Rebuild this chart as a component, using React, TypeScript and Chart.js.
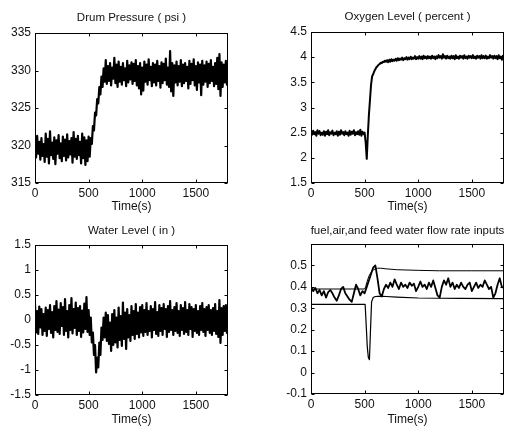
import React, { useEffect, useRef } from "react";
import { Chart, registerables } from "chart.js";

Chart.register(...registerables);

// ---------------- data ----------------
const SAMPLE_STEP_S = 10; // noisy signals sampled every 10 s
const FLOW_STEP_S = 20; // measured flow input sampled every 20 s
const TIME_TICKS = [0, 500, 1000, 1500];

const DRUM_PRESSURE = [
  320.8, 318.4, 321.3, 318.9, 320.5, 318.1, 321.0, 318.6, 320.2, 317.8,
  321.6, 318.5, 320.9, 317.6, 321.9, 318.7, 320.4, 318.2, 321.1, 317.5,
  320.7, 318.9, 321.4, 318.3, 320.3, 317.9, 321.2, 318.6, 320.8, 318.0,
  321.5, 318.4, 320.6, 318.8, 321.0, 317.7, 321.8, 318.5, 320.9, 318.2,
  321.3, 318.7, 320.5, 317.6, 321.6, 318.3, 321.1, 317.4, 320.7, 317.9,
  321.2,
  318.5, 321.0, 320.2, 322.6, 322.0, 324.4, 324.0, 326.2, 325.6, 327.8,
  326.8, 329.2, 327.8, 330.3, 328.5,
  331.4, 328.2, 330.6, 328.6, 331.0, 328.0, 330.4, 328.9, 331.7, 328.3,
  330.8, 327.8, 331.2, 328.5, 330.5, 328.1, 331.0, 328.7, 330.3, 327.9,
  331.3, 328.4, 330.7, 328.8, 331.1, 328.2, 330.9, 328.6, 331.4, 328.0,
  330.6, 327.6, 331.0, 326.8, 330.4, 327.3, 331.2, 328.5, 330.8, 328.1,
  331.5, 328.7, 330.5, 327.9, 331.0, 328.4, 330.8, 328.0, 331.3, 328.6,
  330.6, 327.7, 331.1, 328.3, 330.9, 328.7, 331.6, 328.1, 330.4, 327.8,
  332.6, 327.2, 331.0, 326.6, 330.7, 328.4, 331.2, 328.0, 330.6, 328.5,
  331.4, 327.9, 330.8, 328.3, 331.0, 328.6, 330.5, 327.6, 331.3, 328.2,
  330.9, 328.7, 331.5, 328.0, 330.6, 327.4, 331.1, 328.4, 330.8, 326.7,
  331.3, 328.1, 330.7, 328.5, 331.2, 327.8, 330.9, 328.3, 331.4, 328.6,
  330.5, 327.9, 331.0, 328.2, 331.7, 327.5, 332.2, 326.6, 331.1, 327.8,
  330.8, 328.4, 331.3, 328.1, 330.9,
];

const OXYGEN_LEVEL = [
  2.52, 2.46, 2.54, 2.47, 2.51, 2.44, 2.55, 2.48, 2.53, 2.45,
  2.50, 2.46, 2.53, 2.44, 2.52, 2.47, 2.55, 2.45, 2.51, 2.48,
  2.54, 2.45, 2.50, 2.47, 2.53, 2.44, 2.52, 2.46, 2.55, 2.48,
  2.51, 2.45, 2.53, 2.47, 2.50, 2.44, 2.54, 2.46, 2.52, 2.48,
  2.55, 2.45, 2.51, 2.47, 2.53, 2.46, 2.56, 2.44, 2.52, 2.47,
  2.50,
  2.30, 1.98, 2.45, 2.85, 3.15, 3.45, 3.62, 3.66, 3.72, 3.76,
  3.80, 3.82, 3.85, 3.86, 3.89, 3.88, 3.91, 3.90, 3.93, 3.91,
  3.94, 3.90, 3.95, 3.91, 3.96, 3.92, 3.95, 3.93, 3.97, 3.93,
  3.98, 3.94, 3.97, 3.95, 3.99, 3.94, 3.98, 3.96, 4.00, 3.95,
  3.99, 3.96, 4.01, 3.96, 3.99, 3.97, 4.02, 3.96, 4.00, 3.97,
  4.02, 3.97, 4.01, 3.96, 4.03, 3.98, 4.01, 3.97, 4.02, 3.98,
  4.01, 3.97, 4.03, 3.98, 4.01, 3.96, 4.02, 3.98, 4.04, 3.99,
  4.02, 3.97, 4.06, 3.99, 4.02, 3.97, 4.03, 3.98, 4.01, 3.97,
  4.03, 3.98, 4.02, 3.96, 4.04, 3.98, 4.01, 3.97, 4.03, 3.99,
  4.02, 3.97, 4.04, 3.98, 4.01, 3.97, 4.03, 3.99, 4.02, 3.98,
  4.04, 3.98, 4.01, 3.97, 4.03, 3.99, 4.02, 3.97, 4.04, 3.98,
  4.02, 3.98, 4.03, 3.97, 4.01, 3.98, 4.04, 3.99, 4.02, 3.97,
  4.03, 3.98, 4.02, 3.96, 4.04, 3.98, 4.01, 3.95, 4.03, 3.98,
];

const WATER_LEVEL = [
  0.32, -0.25, 0.18, -0.28, 0.27, -0.15, 0.22, -0.30, 0.12, -0.22,
  0.25, -0.32, 0.20, -0.18, 0.30, -0.26, 0.16, -0.35, 0.28, -0.20,
  0.38, -0.24, 0.21, -0.28, 0.34, -0.12, 0.26, -0.30, 0.42, -0.22,
  0.18, -0.35, 0.30, -0.20, 0.44, -0.27, 0.22, -0.16, 0.35, -0.30,
  0.24, -0.22, 0.28, -0.34, 0.19, -0.25, 0.33, -0.18, 0.46, -0.24,
  0.20,
  -0.30, 0.05, -0.45, -0.25, -0.70, -0.50, -1.05, -0.75, -0.95, -0.45,
  -0.70, -0.15, -0.40, 0.05, -0.35, 0.15, -0.42, 0.10, -0.48, -0.05,
  -0.62, 0.12, -0.50, 0.20, -0.45, 0.05, -0.55, 0.25, -0.40, 0.08,
  -0.52, 0.35, -0.38, 0.15, -0.58, 0.22, -0.35, 0.10, -0.42, 0.28,
  -0.30, 0.18, -0.38, 0.32, -0.28, 0.15, -0.35, 0.26, -0.25, 0.30,
  -0.32, 0.20, -0.24, 0.34, -0.30, 0.18, -0.22, 0.28, -0.35, 0.22,
  -0.20, 0.36, -0.28, 0.16, -0.32, 0.30, -0.22, 0.24, -0.30, 0.32,
  -0.18, 0.22, -0.34, 0.28, -0.24, 0.38, -0.20, 0.20, -0.30, 0.26,
  -0.22, 0.34, -0.26, 0.18, -0.32, 0.30, -0.20, 0.24, -0.28, 0.36,
  -0.24, 0.20, -0.30, 0.32, -0.18, 0.26, -0.34, 0.22, -0.22, 0.30,
  -0.26, 0.18, -0.30, 0.28, -0.20, 0.34, -0.24, 0.22, -0.32, 0.26,
  -0.20, 0.30, -0.26, 0.20, -0.30, 0.24, -0.22, 0.32, -0.28, 0.18,
  -0.34, 0.40, -0.46, 0.24, -0.30, 0.28, -0.22, 0.30, -0.26, 0.22,
];

const INPUT_UPPER_T = [0, 500, 510, 520, 540, 560, 580, 600, 620, 650, 700, 800, 1000, 1200, 1500, 1800];
const INPUT_UPPER_V = [0.39, 0.39, 0.40, 0.42, 0.45, 0.468, 0.478, 0.484, 0.487, 0.487, 0.484, 0.48, 0.477, 0.475, 0.475, 0.475];

const INPUT_LOWER_T = [0, 505, 515, 525, 535, 545, 555, 565, 580, 600, 650, 700, 800, 1000, 1400, 1800];
const INPUT_LOWER_V = [0.318, 0.318, 0.22, 0.12, 0.07, 0.06, 0.2, 0.33, 0.35, 0.355, 0.357, 0.355, 0.352, 0.348, 0.346, 0.345];

const INPUT_MEASURED = [
  0.40, 0.38, 0.395, 0.37, 0.385, 0.36, 0.38, 0.35, 0.375, 0.385,
  0.37, 0.35, 0.335, 0.36, 0.39, 0.40, 0.37, 0.355, 0.34, 0.33,
  0.37, 0.41, 0.39, 0.36, 0.38, 0.37, 0.40, 0.43, 0.46, 0.49,
  0.50, 0.44, 0.37, 0.355, 0.39, 0.41, 0.395, 0.42, 0.40, 0.435,
  0.41, 0.39, 0.42, 0.40, 0.41, 0.395, 0.42, 0.405, 0.415, 0.38,
  0.40, 0.425, 0.40, 0.41, 0.39, 0.42, 0.40, 0.43, 0.395, 0.36,
  0.35, 0.40, 0.43, 0.41, 0.44, 0.40, 0.42, 0.39, 0.41, 0.395,
  0.42, 0.40, 0.39, 0.41, 0.42, 0.38, 0.40, 0.42, 0.395, 0.41,
  0.40, 0.43, 0.41, 0.39, 0.40, 0.35, 0.37, 0.41, 0.44, 0.40, 0.395,
];

const PRESSURE_TICKS = [315, 320, 325, 330, 335];
const OXYGEN_TICKS = [1.5, 2, 2.5, 3, 3.5, 4, 4.5];
const WATER_TICKS = [-1.5, -1, -0.5, 0, 0.5, 1, 1.5];
const INPUT_TICKS = [-0.1, 0, 0.1, 0.2, 0.3, 0.4, 0.5, 0.6];
const INPUT_TICK_LABELS = ["-0.1", "0", "0.1", "0.2", "0.3", "0.4", "0.5", ""];

// ---------------- helpers ----------------
const sampled = (vals: number[], step: number) => vals.map((v, i) => ({ x: i * step, y: v }));
const paired = (ts: number[], vs: number[]) => ts.map((t, i) => ({ x: t, y: vs[i] }));

const FONT_FAMILY = "'Liberation Sans', Arial, sans-serif";
const INK = "#111";

type Panel = {
  left: number; top: number; width: number; height: number;
  yAxisW: number; padTop: number; padRight: number; xAxisH: number;
  title: string; titleY: number; xTitleY: number;
  yMin: number; yMax: number; yTicks: number[]; yLabels?: string[];
  datasets: any[];
};

const line = (data: any[], width = 1) => ({
  data, borderColor: "#000", borderWidth: width, pointRadius: 0, fill: false, tension: 0,
  borderJoinStyle: "round", borderCapStyle: "round",
});

const PANELS: Panel[] = [
  {
    left: 0, top: 0, width: 254, height: 218,
    yAxisW: 35, padTop: 33, padRight: 26, xAxisH: 35,
    title: "Drum Pressure ( psi )", titleY: 18, xTitleY: 207,
    yMin: 315, yMax: 335, yTicks: PRESSURE_TICKS,
    datasets: [line(sampled(DRUM_PRESSURE, SAMPLE_STEP_S), 2.2)],
  },
  {
    left: 254, top: 0, width: 255, height: 218,
    yAxisW: 57, padTop: 32, padRight: 5, xAxisH: 35,
    title: "Oxygen Level ( percent )", titleY: 17, xTitleY: 207,
    yMin: 1.5, yMax: 4.5, yTicks: OXYGEN_TICKS,
    datasets: [line(sampled(OXYGEN_LEVEL, SAMPLE_STEP_S), 2)],
  },
  {
    left: 0, top: 218, width: 254, height: 210,
    yAxisW: 35, padTop: 27, padRight: 26, xAxisH: 33,
    title: "Water Level ( in )", titleY: 13, xTitleY: 202,
    yMin: -1.5, yMax: 1.5, yTicks: WATER_TICKS,
    datasets: [line(sampled(WATER_LEVEL, SAMPLE_STEP_S), 2.2)],
  },
  {
    left: 254, top: 218, width: 255, height: 210,
    yAxisW: 57, padTop: 26, padRight: 5, xAxisH: 34,
    title: "fuel,air,and feed water flow rate inputs", titleY: 13, xTitleY: 202,
    yMin: -0.1, yMax: 0.6, yTicks: INPUT_TICKS, yLabels: INPUT_TICK_LABELS,
    datasets: [
      line(paired(INPUT_UPPER_T, INPUT_UPPER_V), 1),
      line(paired(INPUT_LOWER_T, INPUT_LOWER_V), 1.2),
      line(sampled(INPUT_MEASURED, FLOW_STEP_S), 1.8),
    ],
  },
];

const framePlugin = {
  id: "frame",
  afterDatasetsDraw(chart: any, _args: any, opts: any) {
    const { ctx, chartArea: a, scales } = chart;
    ctx.save();
    ctx.strokeStyle = "#000";
    ctx.lineWidth = 1;
    const L = Math.round(a.left) + 0.5, T = Math.round(a.top) + 0.5;
    const R = Math.round(a.right) - 0.5, B = Math.round(a.bottom) - 0.5;
    ctx.strokeRect(L, T, R - L, B - T);
    ctx.beginPath();
    const tk = 3;
    for (const t of scales.x.ticks) {
      const px = Math.round(scales.x.getPixelForValue(t.value)) + 0.5;
      ctx.moveTo(px, B); ctx.lineTo(px, B - tk);
      ctx.moveTo(px, T); ctx.lineTo(px, T + tk);
    }
    for (const t of scales.y.ticks) {
      const py = Math.round(scales.y.getPixelForValue(t.value)) + 0.5;
      ctx.moveTo(L, py); ctx.lineTo(L + tk, py);
      ctx.moveTo(R, py); ctx.lineTo(R - tk, py);
    }
    ctx.stroke();
    ctx.fillStyle = INK;
    ctx.textAlign = "center";
    ctx.textBaseline = "middle";
    const cx = (a.left + a.right) / 2;
    ctx.font = `11.5px ${FONT_FAMILY}`;
    ctx.fillText(opts.title, cx, opts.titleY);
    ctx.font = `12px ${FONT_FAMILY}`;
    ctx.fillText("Time(s)", cx, opts.xTitleY);
    ctx.restore();
  },
};

function PanelChart({ p }: { p: Panel }) {
  const ref = useRef<HTMLCanvasElement | null>(null);
  useEffect(() => {
    if (!ref.current) return;
    const chart = new Chart(ref.current, {
      type: "line",
      data: { datasets: p.datasets },
      plugins: [framePlugin],
      options: {
        animation: false,
        responsive: false,
        maintainAspectRatio: false,
        devicePixelRatio: 1,
        layout: { padding: { left: 0, top: p.padTop, right: p.padRight, bottom: 0 } },
        plugins: {
          legend: { display: false },
          tooltip: { enabled: false },
          title: { display: false },
          frame: { title: p.title, titleY: p.titleY, xTitleY: p.xTitleY },
        } as any,
        scales: {
          x: {
            type: "linear",
            min: 0,
            max: 1800,
            grid: { display: false, drawTicks: false },
            border: { display: false },
            ticks: {
              padding: 3,
              maxRotation: 0,
              autoSkip: false,
              color: INK,
              font: { family: FONT_FAMILY, size: 12 },
              callback: (v: any) => String(v),
            },
            afterBuildTicks: (s: any) => { s.ticks = TIME_TICKS.map((v) => ({ value: v })); },
            afterFit: (s: any) => { s.height = p.xAxisH; },
          },
          y: {
            type: "linear",
            min: p.yMin,
            max: p.yMax,
            grid: { display: false, drawTicks: false },
            border: { display: false },
            ticks: {
              padding: 4,
              autoSkip: false,
              color: INK,
              font: { family: FONT_FAMILY, size: 12 },
              callback: function (v: any, i: number) {
                if (p.yLabels) return p.yLabels[i];
                return String(Math.round(Number(v) * 100) / 100);
              },
            },
            afterBuildTicks: (s: any) => { s.ticks = p.yTicks.map((v) => ({ value: v })); },
            afterFit: (s: any) => { s.width = p.yAxisW; },
          },
        },
      } as any,
    });
    return () => chart.destroy();
  }, [p]);
  return (
    <canvas
      ref={ref}
      width={p.width}
      height={p.height}
      style={{ position: "absolute", left: p.left, top: p.top, width: p.width, height: p.height }}
    />
  );
}

export default function App() {
  return (
    <div style={{ position: "fixed", left: 0, top: 0, width: 509, height: 428, background: "#fff", overflow: "hidden" }}>
      {PANELS.map((p, i) => (
        <PanelChart key={i} p={p} />
      ))}
    </div>
  );
}
